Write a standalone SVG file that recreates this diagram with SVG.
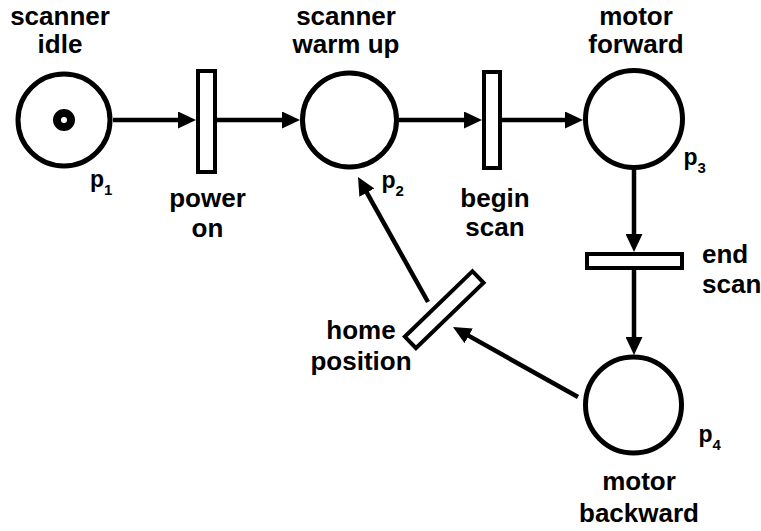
<svg xmlns="http://www.w3.org/2000/svg" width="761" height="531" viewBox="0 0 761 531">
<style>
.place{fill:#fff;stroke:#000;stroke-width:5}
.trans{fill:#fff;stroke:#000;stroke-width:4}
.arc{fill:none;stroke:#000;stroke-width:4.5;marker-end:url(#arr)}
.lbl{font-family:"Liberation Sans",Arial,Helvetica,sans-serif;font-weight:bold;font-size:26px;fill:#000;text-anchor:middle}
.pl{font-family:"Liberation Sans",Arial,Helvetica,sans-serif;font-weight:bold;font-size:23px;fill:#000}
.sub{font-size:15px}
</style>
<defs>
<marker id="arr" viewBox="0 0 18 17" refX="8" refY="8.5" markerWidth="18" markerHeight="17" markerUnits="userSpaceOnUse" orient="auto">
<path d="M0,0 L18,8.5 L0,17 z" fill="#000"/>
</marker>
</defs>
<rect width="761" height="531" fill="#fff"/>
<g id="connectors">
<path class="arc" d="M113,120 H186"/>
<path class="arc" d="M217,120 H290"/>
<path class="arc" d="M399,120 H472"/>
<path class="arc" d="M502,120 H573"/>
<path class="arc" d="M634,168 V242"/>
<path class="arc" d="M634,270 V345"/>
<path class="arc" d="M578,397 L461.7,331.9"/>
<path class="arc" d="M428,302 L362.9,185.7"/>
</g>
<g id="p1">
<circle class="place" cx="64" cy="120" r="46"/>
<circle cx="64" cy="120" r="7" fill="none" stroke="#000" stroke-width="8"/>
<text class="lbl" x="60" y="25">scanner</text>
<text class="lbl" x="60" y="53">idle</text>
<text class="pl" x="90" y="187">p<tspan class="sub" dy="8">1</tspan></text>
</g>
<g id="power-on">
<rect class="trans" x="198" y="71" width="17" height="101"/>
<text class="lbl" x="207.5" y="207">power</text>
<text class="lbl" x="207.5" y="237">on</text>
</g>
<g id="p2">
<circle class="place" cx="349.5" cy="120" r="47"/>
<text class="lbl" x="346" y="25">scanner</text>
<text class="lbl" x="346" y="53">warm up</text>
<text class="pl" x="381.5" y="188">p<tspan class="sub" dy="8">2</tspan></text>
</g>
<g id="begin-scan">
<rect class="trans" x="484" y="72" width="16" height="96"/>
<text class="lbl" x="495" y="207">begin</text>
<text class="lbl" x="495" y="236">scan</text>
</g>
<g id="p3">
<circle class="place" cx="634" cy="119" r="48.5"/>
<text class="lbl" x="636" y="25">motor</text>
<text class="lbl" x="636" y="53">forward</text>
<text class="pl" x="683.5" y="165">p<tspan class="sub" dy="8">3</tspan></text>
</g>
<g id="end-scan">
<rect class="trans" x="587" y="254" width="95" height="14"/>
<text class="lbl" x="702" y="263" style="text-anchor:start">end</text>
<text class="lbl" x="702" y="293" style="text-anchor:start">scan</text>
</g>
<g id="p4">
<circle class="place" cx="633.5" cy="405" r="48"/>
<text class="lbl" x="639" y="490">motor</text>
<text class="lbl" x="639" y="522">backward</text>
<text class="pl" x="698.5" y="442">p<tspan class="sub" dy="8">4</tspan></text>
</g>
<g id="home-position">
<rect class="trans" x="-47" y="-8" width="94" height="16" transform="translate(444.2,309.7) rotate(-44)"/>
<text class="lbl" x="361" y="339">home</text>
<text class="lbl" x="361" y="370">position</text>
</g>
</svg>
